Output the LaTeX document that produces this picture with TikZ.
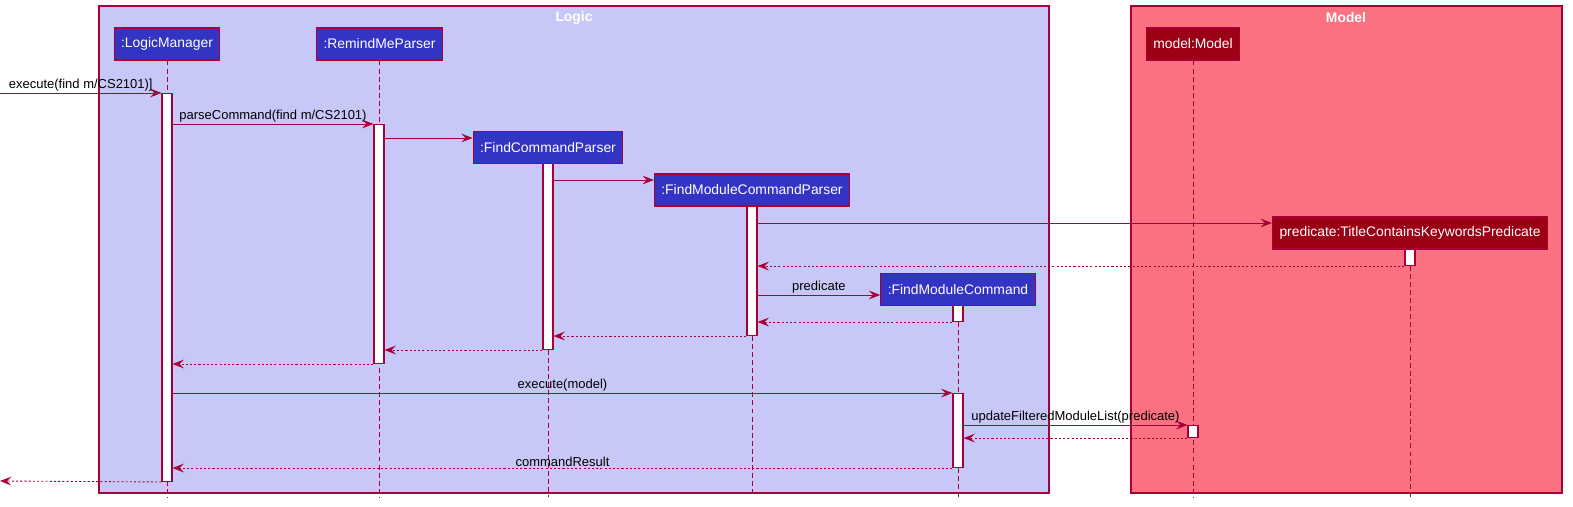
\documentclass[tikz,border=0pt]{standalone}
\usepackage{fontspec}
\setmainfont{Liberation Sans}
\usetikzlibrary{arrows.meta}

\definecolor{umlred}{RGB}{168,0,54}
\definecolor{logicbg}{RGB}{200,200,248}
\definecolor{modelbg}{RGB}{250,114,130}
\definecolor{logicpt}{RGB}{51,51,196}
\definecolor{modelpt}{RGB}{155,0,21}

\tikzset{
    every node/.style={font=\fontsize{7.4}{9}\selectfont},
    frame/.style={draw=umlred, line width=0.6pt},
    frametitle/.style={text=white, font=\fontsize{7.9}{9}\selectfont\bfseries},
    part/.style={draw=umlred, text=white, line width=0.6pt, minimum height=0.64cm,
        inner xsep=0.14cm, font=\fontsize{7.9}{9}\selectfont},
    lpart/.style={part, fill=logicpt},
    mpart/.style={part, fill=modelpt},
    life/.style={draw=umlred, line width=0.5pt, dash pattern=on 2.8pt off 1.8pt},
    act/.style={draw=umlred, fill=white, line width=0.6pt, minimum width=0.2cm,
        anchor=north, inner sep=0pt},
    msg/.style={draw=umlred, line width=0.5pt,
        -{Stealth[length=6.5pt, width=5pt, inset=2.5pt]}},
    ret/.style={msg, dash pattern=on 1.2pt off 1.2pt},
    lbl/.style={midway, above, inner sep=0.8pt},
}

\begin{document}
\begin{tikzpicture}
        [x=0.02cm, y=-0.02cm]
        \useasboundingbox (0,0) rectangle (1573,507);
        \draw[frame, fill=logicbg] (99,6) rectangle (1049,493);
        \node[frametitle] (logic) at (574,17.5) {Logic};
        \draw[frame, fill=modelbg] (1131,6) rectangle (1562,493);
        \node[frametitle] (model) at (1346,17.5) {Model};

        % participants
        \node[lpart] (lm) at (167,44) {:LogicManager};
        \node[lpart] (rp) at (379.5,44) {:RemindMeParser};
        \node[lpart] (fcp) at (548,147.5) {:FindCommandParser};
        \node[lpart] (fmcp) at (752,190) {:FindModuleCommandParser};
        \node[lpart] (fmc) at (958,289.5) {:FindModuleCommand};
        \node[mpart] (mod) at (1193,44) {model:Model};
        \node[mpart] (pred) at (1410,233) {predicate:TitleContainsKeywordsPredicate};

        \foreach \p in {lm,rp,fcp,fmcp,fmc,mod,pred}
            \draw[life] (\p.south) -- (\p |- 0,497);

        % activations
        \node[act, minimum height=7.76cm] (lmA) at (167,93) {};
        \node[act, minimum height=4.78cm] (rpA) at (379,124) {};
        \node[act, minimum height=3.72cm] (fcpA) at (548,163) {};
        \node[act, minimum height=2.58cm] (fmcpA) at (752,206) {};
        \node[act, minimum height=0.32cm] (fmcA1) at (958,305) {};
        \node[act, minimum height=1.48cm] (fmcA2) at (958,393) {};
        \node[act, minimum height=0.32cm] (predA) at (1410,249) {};
        \node[act, minimum height=0.24cm] (modA) at (1193,425) {};

        \coordinate (in) at (0,93);
        \coordinate (out) at (0,481);

        \draw[msg] (in) -- (lmA.north west)
            node[lbl]{execute(find m/CS2101)]};
        \draw[msg] (lmA.east |- rpA.north) -- (rpA.north west)
            node[lbl]{parseCommand(find m/CS2101)};
        \draw[msg] (rpA.east |- 0,138) -- (fcp.west |- 0,138);
        \draw[msg] (fcpA.east |- 0,180) -- (fmcp.west |- 0,180);
        \draw[msg] (fmcpA.east |- 0,223) -- (pred.west |- 0,223);
        \draw[ret] (predA.south west) -- (fmcpA.east |- predA.south);
        \draw[msg] (fmcpA.east |- 0,295) -- (fmc.west |- 0,295)
            node[lbl]{predicate};
        \draw[ret] (fmcA1.south west) -- (fmcpA.east |- fmcA1.south);
        \draw[ret] (fmcpA.south west) -- (fcpA.east |- fmcpA.south);
        \draw[ret] (fcpA.south west) -- (rpA.east |- fcpA.south);
        \draw[ret] (rpA.south west) -- (lmA.east |- rpA.south);
        \draw[msg] (lmA.east |- fmcA2.north) -- (fmcA2.north west)
            node[lbl]{execute(model)};
        \draw[msg] (fmcA2.east |- modA.north) -- (modA.north west)
            node[lbl]{updateFilteredModuleList(predicate)};
        \draw[ret] (modA.south west) -- (fmcA2.east |- modA.south);
        \draw[ret] (fmcA2.south west) -- (lmA.east |- fmcA2.south)
            node[lbl]{commandResult};
        \draw[ret] (lmA.south west) -- (out);
    \end{tikzpicture}
\end{document}
